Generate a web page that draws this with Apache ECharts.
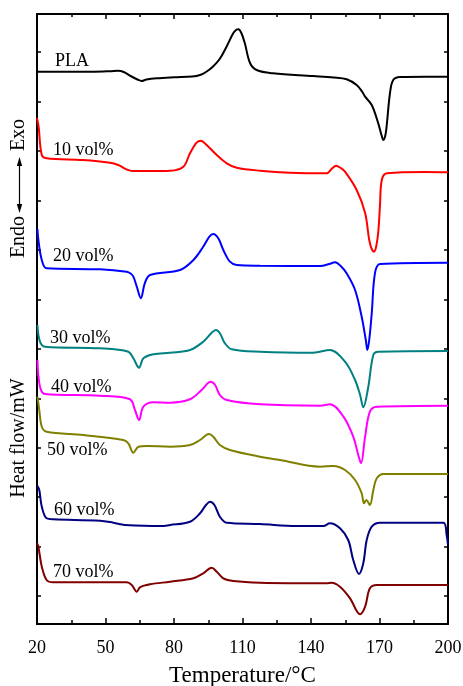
<!DOCTYPE html>
<html>
<head>
<meta charset="utf-8">
<script src="https://cdn.jsdelivr.net/npm/echarts@6/dist/echarts.min.js"></script>
<style>
  html, body { margin: 0; padding: 0; background: #fff; }
  #chart { width: 463px; height: 686px; }
</style>
</head>
<body>
<div id="chart"></div>
<script>
// DSC curves, heat flow in arbitrary offset units (curves stacked)
const xTicks = [20, 50, 80, 110, 140, 170, 200];
const yTicks = [0, 49.5, 99, 148, 197.5, 247, 296.5, 346, 395.5, 445, 494.5, 544];

const names = ['PLA', '10 vol%', '20 vol%', '30 vol%', '40 vol%', '50 vol%', '60 vol%', '70 vol%'];
const colors = ['#000000', '#ff0000', '#0000ff', '#008080', '#ff00ff', '#808000', '#000080', '#800000'];

const pla = [
  [20, 524.3], [30, 524.3], [45, 524.3], [52, 524.8], [55.5, 525.3], [58, 524], [61, 520], [64, 516.5],
  [65.8, 515], [68, 516.5], [72.4, 517.7], [80, 518.7], [88, 519.5], [91.4, 521], [94, 524], [97, 529.3],
  [100, 537], [103, 549.3], [106, 563], [107.3, 566.2], [108.2, 566.7], [109.5, 563], [111, 553],
  [113.3, 533], [116.2, 526], [123.4, 522.7], [141, 520], [150, 518.5], [155.6, 516.7], [160, 511],
  [162.5, 504], [163.7, 499.3], [166.6, 491], [169.4, 473], [171, 460], [171.7, 456], [172.5, 460],
  [173.1, 469.3], [174.6, 503], [176, 516], [179, 519], [190, 519.3], [200, 519.3]
];
const vol10 = [
  [20, 478], [20.7, 469.3], [22.1, 441], [24.2, 437.7], [40, 436], [52, 433.3], [55.6, 431], [58, 428],
  [60, 426], [62, 425], [69.5, 425], [78.3, 425.3], [84.1, 429.3], [87, 442.7], [89.9, 453.3],
  [91.8, 455.3], [94.3, 451], [98.7, 441], [103.1, 432.7], [107.5, 428.3], [117.7, 425.3],
  [130.8, 423.3], [146.9, 422.7], [149, 427], [151, 430.3], [153, 428], [154.9, 424.3], [160, 406],
  [163.7, 383], [165.5, 356], [166.6, 347], [167.6, 344.3], [168.6, 350], [169.5, 365], [170.2, 390],
  [171, 416], [173.2, 422.7], [190, 424], [200, 423.7]
];
const vol20 = [
  [20.2, 367], [20.6, 356], [22.1, 336], [24.2, 327.7], [47.6, 326.7], [59.3, 324.3], [61, 322.5],
  [62.2, 319.3], [63.7, 309.3], [65.5, 297.7], [67.2, 312.7], [69.5, 321], [82.6, 326], [88.5, 336],
  [92.8, 349.3], [95.5, 359.3], [97.2, 362], [99.4, 357.7], [101.6, 346], [104.5, 334.3], [107.5, 331],
  [117.7, 330.3], [144, 330], [148, 332], [150.5, 333.7], [153, 330], [155.6, 322.7], [159.3, 306],
  [162.2, 279.3], [164, 256], [164.7, 246], [165.5, 256], [166.6, 282.7], [168, 322.7], [170.2, 332],
  [200, 333.3]
];
const vol30 = [
  [20.2, 271], [21.3, 254.3], [23.5, 249.3], [47.6, 247.7], [60, 244.3], [62.2, 237.7], [64.7, 228.3],
  [66.6, 237.7], [71, 241.7], [78.3, 243.3], [87, 246], [92.8, 254.3], [96.5, 263.3], [98.4, 266],
  [100.1, 262.7], [102.3, 252.7], [105.3, 246.7], [117.7, 244.3], [141, 243.3], [148.3, 246],
  [154.9, 234.3], [159.3, 216], [161.5, 201], [162.9, 188.7], [165.1, 209.3], [167.3, 241],
  [169.5, 244.3], [200, 245]
];
const vol40 = [
  [20.2, 236], [21.3, 209.3], [23.5, 202], [47.6, 200.3], [60.7, 196.7], [62.9, 186], [64.7, 176],
  [66.6, 189.3], [71, 193.7], [78.3, 193.3], [87, 196.7], [92.1, 206], [96.1, 214.3], [98, 211],
  [100.1, 201], [103.1, 196], [117.7, 191.7], [144, 190.3], [148.3, 191.7], [154.2, 179.3],
  [158.5, 159.3], [160.7, 141], [161.9, 132.7], [163.7, 159.3], [165.8, 184.3], [168.8, 189.3],
  [200, 190.3]
];
const vol50 = [
  [20.2, 199.3], [21, 186], [22.1, 169.3], [24.2, 164.3], [40.3, 161], [57.8, 156], [60, 152.7],
  [62.2, 143.3], [64.4, 149.3], [68, 150], [78.3, 149.3], [87, 151], [91.4, 156], [95.3, 162],
  [97.2, 159.3], [100.1, 151], [104.5, 146], [117.7, 139.3], [126.4, 136], [144, 129.3], [149.8, 130],
  [154.9, 126], [159.3, 116], [162.2, 102.7], [163.2, 92.7], [164.2, 96], [165.8, 91], [167.3, 106],
  [168.8, 117.7], [171.7, 122], [200, 122]
];
const vol60 = [
  [20.2, 110], [21, 106], [22.1, 89.3], [24.2, 77.7], [27.1, 76.7], [47.6, 75.3], [53.4, 73.3],
  [56, 72], [58.5, 71], [73.9, 70], [78.3, 71], [87, 74.3], [91.4, 82.7], [94, 91], [95.8, 94.3],
  [97.7, 91], [100.1, 79.3], [103.1, 73.3], [117.7, 72], [133.7, 70], [145.4, 70], [148.3, 72.7],
  [152.7, 67.7], [156.3, 56], [158.5, 36], [161, 22], [162.9, 32.7], [164.4, 56], [166.6, 69.3],
  [170.2, 73.3], [198, 73.3], [199.4, 61], [200, 51]
];
const vol70 = [
  [20, 52.7], [20.6, 49.3], [22.1, 29.3], [24.2, 16], [27.1, 13.7], [59.3, 13.7], [61.5, 11],
  [63.7, 4.3], [65.1, 8.7], [69.5, 11.7], [78.3, 14.3], [88.5, 17.7], [92.8, 22.7], [96.5, 28.3],
  [98.7, 24.3], [101.6, 17.7], [106, 15], [117.7, 13.3], [146.9, 12.7], [149, 13.3], [152.7, 9.3],
  [157.1, -2.3], [161.5, -18.3], [163.7, -10.7], [165.8, 7.7], [168.8, 11], [200, 11]
];
const curves = [pla, vol10, vol20, vol30, vol40, vol50, vol60, vol70];

// label anchor (left edge, vertical middle) in data units
const labelPos = [
  [27.9, 535], [27, 446], [27, 340], [25.7, 258], [26.1, 209], [24.4, 146], [27.4, 86], [27, 24]
];

const serif = '"Liberation Serif", "DejaVu Serif", serif';

const chart = echarts.init(document.getElementById('chart'));

const series = curves.map((d, i) => ({
  name: names[i],
  type: 'line',
  data: d,
  showSymbol: false,
  smooth: 0.35,
  lineStyle: { color: colors[i], width: 2 },
  itemStyle: { color: colors[i] },
  animation: false,
  markPoint: {
    symbol: 'circle',
    symbolSize: 0,
    animation: false,
    silent: true,
    data: [{
      coord: labelPos[i],
      label: {
        show: true,
        formatter: names[i],
        position: 'right',
        distance: 0,
        color: '#000',
        fontFamily: serif,
        fontSize: 18
      }
    }]
  }
}));

const axisLine = { show: true, onZero: false, lineStyle: { color: '#000', width: 2 } };

chart.setOption({
  animation: false,
  backgroundColor: '#fff',
  grid: { left: 37, right: 15, top: 14, bottom: 62, outerBoundsMode: 'none', containLabel: false },
  xAxis: [
    {
      type: 'value', min: 20, max: 200, interval: 30, position: 'bottom',
      axisLine: axisLine,
      axisTick: { inside: true, length: 6, lineStyle: { color: '#000', width: 1.5 } },
      minorTick: { show: true, splitNumber: 2, length: 4, lineStyle: { color: '#000', width: 1.5 } },
      splitLine: { show: false },
      axisLabel: { color: '#000', fontFamily: serif, fontSize: 18, margin: 15,
        customValues: xTicks },
      name: 'Temperature/°C', nameLocation: 'middle', nameGap: 40,
      nameTextStyle: { color: '#000', fontFamily: serif, fontSize: 23 }
    },
    {
      type: 'value', min: 20, max: 200, interval: 30, position: 'top',
      axisLine: axisLine,
      axisTick: { inside: true, length: 5, lineStyle: { color: '#000', width: 1.5 } },
      minorTick: { show: true, splitNumber: 2, length: 3, lineStyle: { color: '#000', width: 1.5 } },
      splitLine: { show: false },
      axisLabel: { show: false }
    }
  ],
  yAxis: [
    {
      type: 'value', min: -28, max: 582, position: 'left',
      axisLine: axisLine,
      axisTick: { inside: true, length: 4, customValues: yTicks, lineStyle: { color: '#000', width: 1.5 } },
      splitLine: { show: false },
      axisLabel: { show: false }
    },
    {
      type: 'value', min: -28, max: 582, position: 'right',
      axisLine: axisLine,
      axisTick: { inside: true, length: 4, customValues: yTicks, lineStyle: { color: '#000', width: 1.5 } },
      splitLine: { show: false },
      axisLabel: { show: false }
    }
  ],
  graphic: [
    {
      type: 'text', x: 19, y: 438, rotation: Math.PI / 2,
      style: { text: 'Heat flow/mW', fill: '#000', font: '20px ' + serif, align: 'center', verticalAlign: 'middle' }
    },
    {
      type: 'text', x: 19, y: 135, rotation: Math.PI / 2,
      style: { text: 'Exo', fill: '#000', font: '20px ' + serif, align: 'center', verticalAlign: 'middle' }
    },
    {
      type: 'text', x: 19, y: 237, rotation: Math.PI / 2,
      style: { text: 'Endo', fill: '#000', font: '20px ' + serif, align: 'center', verticalAlign: 'middle' }
    },
    {
      type: 'line', shape: { x1: 19.5, y1: 162, x2: 19.5, y2: 208 },
      style: { stroke: '#000', lineWidth: 1.2 }
    },
    {
      type: 'polygon', shape: { points: [[19.5, 157], [16.8, 166], [22.2, 166]] },
      style: { fill: '#000' }
    },
    {
      type: 'polygon', shape: { points: [[19.5, 213], [16.8, 204], [22.2, 204]] },
      style: { fill: '#000' }
    }
  ],
  series: series
});
</script>
</body>
</html>
